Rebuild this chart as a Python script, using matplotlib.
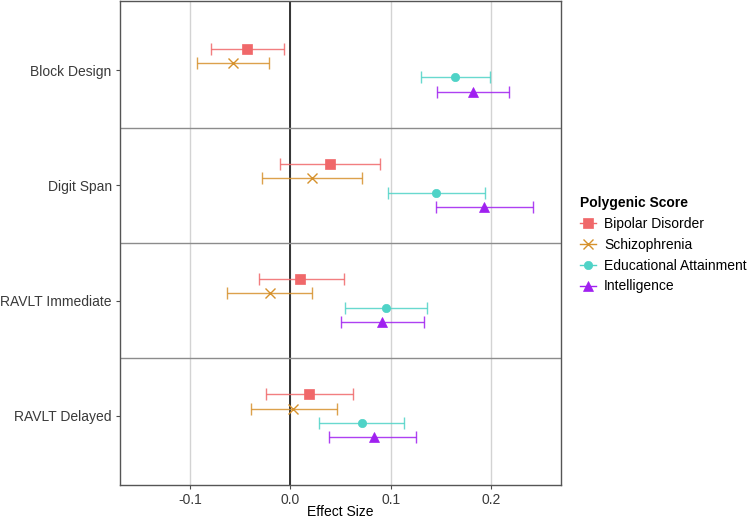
# -*- coding: utf-8 -*-
"""
Forest-style plot of polygenic score effect sizes on cognitive tests.
"""

import matplotlib.pyplot as plt
from matplotlib.lines import Line2D
import numpy as np

plt.rcParams['font.family'] = ['Liberation Sans', 'DejaVu Sans']

#%% Data

tests = ['Block Design', 'Digit Span', 'RAVLT Immediate', 'RAVLT Delayed']
scores = ['Bipolar Disorder', 'Schizophrenia', 'Educational Attainment', 'Intelligence']

bip_est = [-0.043, 0.040, 0.010, 0.019]
bip_lo = [-0.079, -0.010, -0.031, -0.024]
bip_hi = [-0.006, 0.089, 0.053, 0.062]

scz_est = [-0.057, 0.022, -0.020, 0.003]
scz_lo = [-0.093, -0.028, -0.063, -0.039]
scz_hi = [-0.021, 0.071, 0.022, 0.047]

edu_est = [0.164, 0.145, 0.095, 0.071]
edu_lo = [0.130, 0.097, 0.054, 0.029]
edu_hi = [0.199, 0.194, 0.136, 0.113]

int_est = [0.182, 0.193, 0.091, 0.083]
int_lo = [0.146, 0.145, 0.050, 0.039]
int_hi = [0.218, 0.242, 0.133, 0.125]

#%% Styling

colours = ['#F0686A', '#D6912C', '#4FD3C7', '#A020F0']
markers = ['s', 'x', 'o', '^']
msizes = [6.5, 7, 6, 7.5]
dodge = [0.1875, 0.0625, -0.0625, -0.1875]

series = [(bip_est, bip_lo, bip_hi), (scz_est, scz_lo, scz_hi),
          (edu_est, edu_lo, edu_hi), (int_est, int_lo, int_hi)]

#%% Plot

fig = plt.figure(figsize=(7.5, 5.19), dpi=100)
ax = fig.add_axes([0.16, 0.0655, 0.588, 0.9325])

ypos = np.arange(len(tests), 0, -1)  # Block Design at top

for i, (est, lo, hi) in enumerate(series):
    est = np.array(est)
    xerr = [est - np.array(lo), np.array(hi) - est]
    ax.errorbar(est, ypos + dodge[i], xerr=xerr, fmt='none', ecolor=colours[i],
                elinewidth=1, capsize=4.5, capthick=1, alpha=0.85, zorder=3)
    ax.plot(est, ypos + dodge[i], linestyle='none', marker=markers[i],
            markersize=msizes[i], color=colours[i], markeredgewidth=1 if markers[i] == 'x' else 0.5,
            zorder=4)

ax.axvline(0, color='#333333', linewidth=1.4, zorder=2)
for y in [1.5, 2.5, 3.5]:
    ax.axhline(y, color='#8C8C8C', linewidth=1, zorder=2)

ax.set_xlim(-0.17, 0.27)
ax.set_ylim(0.4, 4.6)
ax.set_xticks([-0.1, 0.0, 0.1, 0.2])
ax.set_xticklabels(['-0.1', '0.0', '0.1', '0.2'])
ax.set_yticks(ypos)
ax.set_yticklabels(tests)
ax.grid(axis='x', color='#D3D3D3', linewidth=1, zorder=0)
ax.set_axisbelow(True)
ax.tick_params(axis='both', labelsize=10, colors='#4D4D4D', labelcolor='#3A3A3A',
               length=3, width=0.8, pad=3)
for sp in ax.spines.values():
    sp.set_color('#555555')
    sp.set_linewidth(1)
ax.set_xlabel('Effect Size', fontsize=10, labelpad=-1.5)

handles = [Line2D([0], [0], color=colours[i], marker=markers[i], markersize=msizes[i],
                  linewidth=1, markeredgewidth=1 if markers[i] == 'x' else 0.5)
           for i in range(len(scores))]
leg = fig.legend(handles, scores, title='Polygenic Score', loc='upper left',
                 bbox_to_anchor=(0.757, 0.647), frameon=False, fontsize=10,
                 title_fontsize=10, handlelength=1.1, handletextpad=0.6,
                 labelspacing=0.5, alignment='left')
leg.get_title().set_fontweight('bold')

fig.savefig('out.png', dpi=100)
